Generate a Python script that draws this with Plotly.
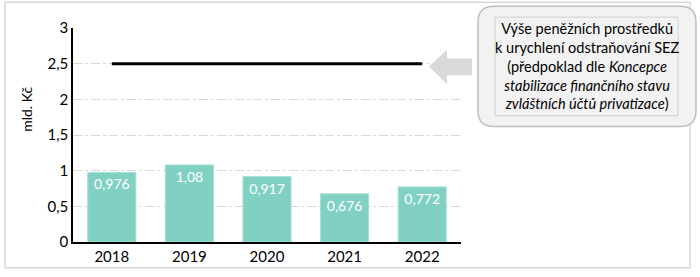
import plotly.graph_objects as go

years = ["2018", "2019", "2020", "2021", "2022"]
values = [0.976, 1.08, 0.917, 0.676, 0.772]
labels = ["0,976", "1,08", "0,917", "0,676", "0,772"]
target = [2.5, 2.5, 2.5, 2.5, 2.5]
y_ticks = [0, 0.5, 1, 1.5, 2, 2.5, 3]
y_ticktext = ["0", "0,5", "1", "1,5", "2", "2,5", "3"]

W, H = 700, 277
L, R, T, B = 73, 239, 28, 32
pw, ph = W - L - R, H - T - B

def px(x):
    return (x - L) / pw

def py(y):
    return (H - B - y) / ph

FONT = "Lato, 'Open Sans', sans-serif"

fig = go.Figure()
fig.add_trace(go.Bar(
    x=years, y=values, text=labels, textposition="inside",
    insidetextanchor="end",
    textfont=dict(color="white", size=14, family=FONT),
    marker=dict(color="#80D0C4", line=dict(color="#A8E0D6", width=1)),
    hoverinfo="skip", cliponaxis=False,
))
fig.add_trace(go.Scatter(
    x=years, y=target, mode="lines",
    line=dict(color="black", width=3), hoverinfo="skip",
))

shapes = []
# outer frame
shapes.append(dict(type="rect", xref="paper", yref="paper",
                   x0=px(5), x1=px(690), y0=py(271), y1=py(2),
                   line=dict(color="#d9d9d9", width=1.5), layer="below"))
# arrow pointing left
ax = [429, 447, 447, 472, 472, 447, 447]
ay = [67, 50, 59, 59, 76, 76, 85]
path = "M " + " L ".join(f"{px(a):.5f},{py(b):.5f}" for a, b in zip(ax, ay)) + " Z"
shapes.append(dict(type="path", xref="paper", yref="paper", path=path,
                   fillcolor="#d9d9d9", line=dict(width=0)))
# rounded box
x0, x1, y0, y1, r = 478, 696, 6, 128, 16
rp = (f"M {px(x0+r)},{py(y0)} L {px(x1-r)},{py(y0)} "
      f"Q {px(x1)},{py(y0)} {px(x1)},{py(y0+r)} L {px(x1)},{py(y1-r)} "
      f"Q {px(x1)},{py(y1)} {px(x1-r)},{py(y1)} L {px(x0+r)},{py(y1)} "
      f"Q {px(x0)},{py(y1)} {px(x0)},{py(y1-r)} L {px(x0)},{py(y0+r)} "
      f"Q {px(x0)},{py(y0)} {px(x0+r)},{py(y0)} Z")
shapes.append(dict(type="path", xref="paper", yref="paper", path=rp,
                   fillcolor="#f2f2f2", line=dict(color="#bfbfbf", width=1.5)))
# inner text box
shapes.append(dict(type="rect", xref="paper", yref="paper",
                   x0=px(495), x1=px(678), y0=py(117), y1=py(17),
                   fillcolor="#f2f2f2", line=dict(color="#c8c8c8", width=0.8)))

box_text = ("Výše peněžních prostředků<br>k urychlení odstraňování SEZ<br>"
            "(předpoklad dle <i>Koncepce</i><br><i>stabilizace finančního stavu</i><br>"
            "<i>zvláštních účtů privatizace</i>)")

annotations = [
    dict(xref="paper", yref="paper", x=px(587), y=py(67), text=box_text,
         showarrow=False, xanchor="center", yanchor="middle", align="center",
         font=dict(size=14.5, color="black", family=FONT)),
    dict(xref="paper", yref="paper", x=px(27), y=py(111), text="mld. Kč",
         textangle=-90, showarrow=False, xanchor="center", yanchor="middle",
         font=dict(size=14, color="black", family=FONT)),
]

fig.update_layout(
    width=W, height=H, margin=dict(l=L, r=R, t=T, b=B),
    paper_bgcolor="white", plot_bgcolor="white",
    showlegend=False, bargap=0.38, separators=", ",
    shapes=shapes, annotations=annotations,
    font=dict(family=FONT, size=15, color="black"),
)
fig.update_xaxes(showline=True, linecolor="black", linewidth=1.5,
                 ticks="", showgrid=False, tickfont=dict(size=15),
                 range=[-0.5, 4.5])
fig.update_yaxes(range=[0, 3], tickvals=y_ticks, ticktext=y_ticktext,
                 showline=True, linecolor="black", linewidth=1.5,
                 showgrid=True, gridcolor="#d9d9d9", griddash="dashdot",
                 gridwidth=1, zeroline=False, ticks="", ticklen=0,
                 tickfont=dict(size=15))

fig.write_html("out.html")
